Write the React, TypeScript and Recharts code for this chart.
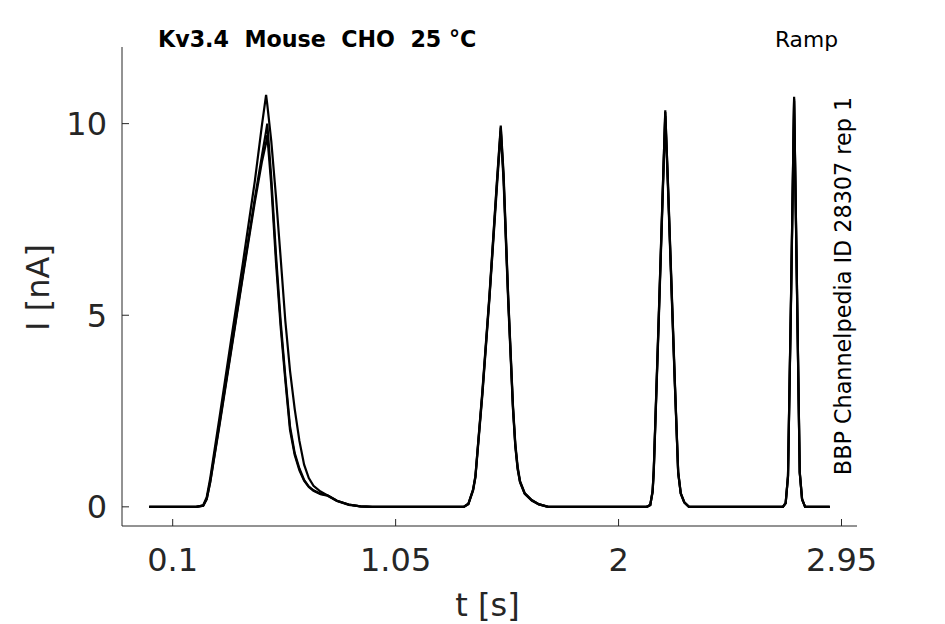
import { Line, LineChart, XAxis, YAxis } from "recharts";

// sample times [s], shared by all three repetitions
const time = [
  0, 0.2, 0.23, 0.245, 0.26, 0.3, 0.35, 0.4, 0.45, 0.48, 0.498, 0.503, 0.52, 0.54, 0.56, 0.58, 0.6, 0.62, 0.64,
  0.66, 0.68, 0.7, 0.73, 0.76, 0.8, 0.85, 0.9, 0.95,
  1.34, 1.36, 1.38, 1.39, 1.42, 1.45, 1.48, 1.498, 1.51, 1.53, 1.55, 1.56, 1.57, 1.58, 1.6, 1.63, 1.66, 1.7,
  2.12, 2.135, 2.145, 2.15, 2.17, 2.185, 2.199, 2.21, 2.229, 2.24, 2.254, 2.265, 2.28, 2.3,
  2.7, 2.712, 2.722, 2.735, 2.748, 2.76, 2.772, 2.782, 2.795, 2.9,
];

// current [nA]
const rep1 = [
  0, 0, 0.04, 0.25, 0.75, 2.35, 4.4, 6.4, 8.5, 9.95, 10.75, 10.5, 9.55, 8.1, 6.5, 4.85, 3.55, 2.55, 1.72,
  1.1, 0.75, 0.55, 0.4, 0.3, 0.16, 0.06, 0.01, 0,
  0, 0.08, 0.45, 0.8, 3.0, 5.5, 8.3, 9.9, 8.6, 5.4, 2.6, 1.6, 1.0, 0.65, 0.35, 0.17, 0.07, 0,
  0, 0.05, 0.4, 0.95, 4.7, 7.6, 10.35, 8.5, 5.13, 3.2, 0.9, 0.35, 0.12, 0,
  0, 0.1, 0.8, 5.5, 10.7, 5.8, 0.9, 0.2, 0, 0,
];

const rep2 = [
  0, 0, 0.03, 0.2, 0.66, 2.2, 4.15, 6.1, 8.05, 9.15, 9.8, 10.0, 8.6, 6.6, 4.85, 3.4, 2.1, 1.4, 1.0,
  0.7, 0.53, 0.43, 0.34, 0.3, 0.16, 0.06, 0.01, 0,
  0, 0.08, 0.45, 0.8, 3.05, 5.55, 8.35, 9.95, 8.7, 5.45, 2.65, 1.65, 1.05, 0.68, 0.36, 0.18, 0.07, 0,
  0, 0.05, 0.42, 0.98, 4.75, 7.65, 10.3, 8.55, 5.2, 3.25, 0.92, 0.36, 0.12, 0,
  0, 0.1, 0.82, 5.55, 10.65, 5.85, 0.92, 0.2, 0, 0,
];

const rep3 = [
  0, 0, 0.03, 0.2, 0.64, 2.15, 4.1, 6.05, 7.95, 9.0, 9.5, 9.7, 8.4, 6.4, 4.7, 3.3, 2.0, 1.35, 0.95,
  0.68, 0.52, 0.42, 0.33, 0.29, 0.15, 0.05, 0.01, 0,
  0, 0.07, 0.42, 0.76, 2.95, 5.45, 8.2, 9.8, 8.5, 5.3, 2.55, 1.58, 0.98, 0.64, 0.34, 0.16, 0.06, 0,
  0, 0.05, 0.38, 0.92, 4.6, 7.5, 10.2, 8.4, 5.05, 3.15, 0.88, 0.34, 0.11, 0,
  0, 0.09, 0.78, 5.4, 10.6, 5.7, 0.88, 0.19, 0, 0,
];

const xTicks = [0.1, 1.05, 2, 2.95];
const yTicks = [0, 5, 10];

const data = time.map((t, i) => ({ t, r1: rep1[i], r2: rep2[i], r3: rep3[i] }));

const axisColor = "#262626";
const font = "DejaVu Sans";
const tickStyle = { fontFamily: font, fontSize: 32, fill: axisColor };

export default function App() {
  return (
    <div style={{ position: "absolute", left: 0, top: 0, width: 945, height: 624, background: "#fff" }}>
      <LineChart width={945} height={624} data={data} margin={{ top: 47, right: 88, left: 0, bottom: 0 }}>
        <XAxis
          type="number"
          dataKey="t"
          domain={[-0.116, 3.016]}
          ticks={xTicks}
          height={98}
          tickSize={-7}
          tickMargin={29}
          tick={tickStyle}
          stroke={axisColor}
        />
        <YAxis
          type="number"
          domain={[-0.5, 12]}
          ticks={yTicks}
          width={122}
          tickSize={-7}
          tickMargin={22}
          tick={tickStyle}
          stroke={axisColor}
        />
        <Line dataKey="r1" type="linear" stroke="#000" strokeWidth={2.2} dot={false} isAnimationActive={false} />
        <Line dataKey="r2" type="linear" stroke="#000" strokeWidth={2.2} dot={false} isAnimationActive={false} />
        <Line dataKey="r3" type="linear" stroke="#000" strokeWidth={2.2} dot={false} isAnimationActive={false} />
      </LineChart>
      <svg width={945} height={624} style={{ position: "absolute", left: 0, top: 0, pointerEvents: "none" }}>
        <text x={158} y={47} fontFamily={font} fontSize={22.2} fontWeight="bold" fill="#000" style={{ whiteSpace: "pre" }}>
          {"Kv3.4  Mouse  CHO  25 °C"}
        </text>
        <text x={838} y={47} fontFamily={font} fontSize={21.8} fill="#000" textAnchor="end">
          Ramp
        </text>
        <text
          x={851}
          y={286}
          fontFamily={font}
          fontSize={22.3}
          fill="#000"
          textAnchor="middle"
          transform="rotate(-90 851 286)"
        >
          BBP Channelpedia ID 28307 rep 1
        </text>
        <text x={487.5} y={616} fontFamily={font} fontSize={32} fill={axisColor} textAnchor="middle">
          t [s]
        </text>
        <text
          x={49}
          y={287.5}
          fontFamily={font}
          fontSize={32}
          fill={axisColor}
          textAnchor="middle"
          transform="rotate(-90 49 287.5)"
        >
          I [nA]
        </text>
      </svg>
    </div>
  );
}
